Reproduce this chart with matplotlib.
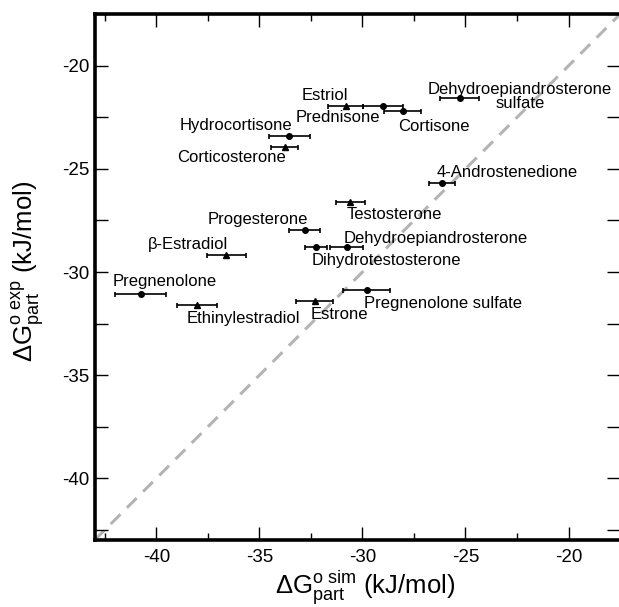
import matplotlib
matplotlib.use("Agg")
from matplotlib import pyplot as plt
from matplotlib.ticker import MultipleLocator

plt.rcParams['font.family'] = ['Liberation Sans', 'DejaVu Sans']
plt.rcParams['mathtext.fontset'] = 'custom'
plt.rcParams['mathtext.rm'] = 'Liberation Sans'
plt.rcParams['mathtext.it'] = 'Liberation Sans:italic'
plt.rcParams['axes.unicode_minus'] = False

# steroid, simulated dG, experimental dG, error of simulated dG, marker
names = ['Estriol', 'Prednisone', 'Cortisone', 'Dehydroepiandrosterone sulfate',
         'Hydrocortisone', 'Corticosterone', '4-Androstenedione', 'Testosterone',
         'Progesterone', 'Dihydrotestosterone', 'Dehydroepiandrosterone',
         'β-Estradiol', 'Pregnenolone', 'Ethinylestradiol', 'Estrone',
         'Pregnenolone sulfate']
dg_sim = [-30.82, -29.01, -28.04, -25.29, -33.54, -33.78, -26.15, -30.59,
          -32.81, -32.24, -30.77, -36.61, -40.76, -38.03, -32.32, -29.79]
dg_exp = [-21.94, -21.97, -22.18, -21.58, -23.40, -23.92, -25.69, -26.60,
          -27.98, -28.79, -28.79, -29.19, -31.08, -31.58, -31.40, -30.89]
err_sim = [0.85, 0.97, 0.90, 0.93, 1.00, 0.65, 0.63, 0.71,
           0.75, 0.54, 0.78, 0.95, 1.25, 0.97, 0.89, 1.13]
markers = ['^', 'o', 'o', 'o', 'o', '^', 'o', '^',
           'o', 'o', 'o', '^', 'o', '^', '^', 'o']

# label text and where it sits (baseline, centred)
label_text = ['Estriol', 'Prednisone', 'Cortisone', 'Dehydroepiandrosterone\nsulfate',
              'Hydrocortisone', 'Corticosterone', '4-Androstenedione', 'Testosterone',
              'Progesterone', 'Dihydrotestosterone', 'Dehydroepiandrosterone',
              'β-Estradiol', 'Pregnenolone', 'Ethinylestradiol', 'Estrone',
              'Pregnenolone sulfate']
label_x = [-31.84, -31.17, -26.53, -22.36, -36.14, -36.33, -22.97, -28.46,
           -35.10, -28.82, -26.47, -38.47, -39.58, -35.76, -31.13, -26.11]
label_y = [-21.64, -22.74, -23.14, -22.07, -23.10, -24.68, -25.40, -27.42,
           -27.66, -29.68, -28.58, -28.87, -30.68, -32.45, -32.26, -31.72]

lims = (-43, -17.5)

fig = plt.figure(figsize=(6.19, 6.07), dpi=100)
ax = fig.add_axes([0.1527, 0.110, 0.849, 0.8666])

ax.plot(lims, lims, color='#b4b4b4', lw=2.2, dashes=(4.5, 3), zorder=1)

for i in range(len(names)):
    ax.errorbar(dg_sim[i], dg_exp[i], xerr=err_sim[i], fmt=markers[i],
                color='black', ms=4.5 if markers[i] == '^' else 4,
                elinewidth=1.2, capsize=1.8, capthick=1.2, zorder=3)
    ax.text(label_x[i], label_y[i], label_text[i], fontsize=12,
            ha='center', va='baseline', linespacing=0.95, zorder=4)

ax.set_xlim(lims)
ax.set_ylim(lims)
ax.xaxis.set_major_locator(MultipleLocator(5))
ax.yaxis.set_major_locator(MultipleLocator(5))
ax.xaxis.set_minor_locator(MultipleLocator(2.5))
ax.yaxis.set_minor_locator(MultipleLocator(2.5))
ax.tick_params(which='both', direction='in', top=True, right=True, labelsize=13.5)
ax.tick_params(which='major', length=9.5, width=1.0)
ax.tick_params(axis='x', which='major', pad=6)
ax.tick_params(axis='x', which='minor', length=5, width=1.0)
ax.tick_params(axis='y', which='minor', length=9.5, width=1.0)
for sp in ax.spines.values():
    sp.set_linewidth(2.6)

ax.set_xlabel(r'$\mathrm{\Delta G}^{\mathrm{o\ sim}}_{\mathrm{part}}$ (kJ/mol)', fontsize=18.5)
ax.set_ylabel(r'$\mathrm{\Delta G}^{\mathrm{o\ exp}}_{\mathrm{part}}$ (kJ/mol)', fontsize=18.5)
ax.xaxis.set_label_coords(0.515, -0.053)
ax.yaxis.set_label_coords(-0.09, 0.512)

fig.savefig('out.png', dpi=100)
